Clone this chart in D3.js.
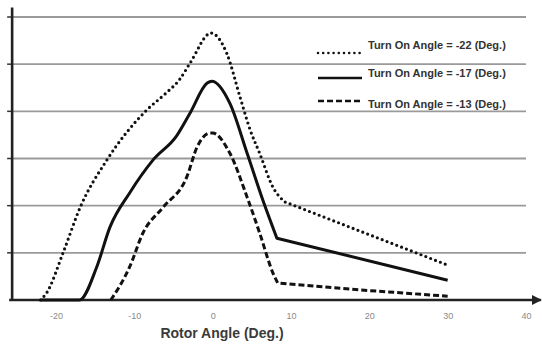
<!DOCTYPE html>
<html lang="en">
<head>
<meta charset="UTF-8">
<title>Turn On Angle vs Rotor Angle</title>
<script src="https://cdn.jsdelivr.net/npm/d3@7"></script>
<style>
  body { margin: 0; background: #fff; }
  svg { display: block; }
  .tick-label { font-family: "Liberation Sans", Arial, sans-serif; font-size: 9px; fill: #8a8a8a; }
  .axis-title { font-family: "Liberation Sans", Arial, sans-serif; font-size: 14px; font-weight: bold; fill: #3a3a3a; }
  .legend-text { font-family: "Liberation Sans", Arial, sans-serif; font-size: 11px; font-weight: bold; fill: #333; }
</style>
</head>
<body>
<svg id="chart" width="542" height="344"></svg>
<script>
// данные
const xTicks = [-20, -10, 0, 10, 20, 30, 40];
const gridValues = [1, 2, 3, 4, 5, 6];

// гладкая часть кривой (до излома) и прямой хвост после излома
const angle22 = [-22, -21.2, -19.1, -16.9, -13.5, -8.4, -6.0, -4.2, -2.9, -0.2, 1.8, 3.5, 4.8, 6.0, 7.7, 9.2];
const value22 = [0, 0.15, 1.0, 1.97, 2.97, 4.03, 4.38, 4.68, 5.02, 5.66, 5.23, 4.30, 3.60, 3.11, 2.39, 2.08];
const tailAngle22 = [30];
const tailValue22 = [0.74];

const angle17 = [-22, -17, -14.8, -13.1, -10.6, -7.6, -4.6, -2.9, -0.7, -0.1, 2.2, 4.4, 6.4, 8.2];
const value17 = [0, 0, 0.70, 1.55, 2.27, 2.97, 3.48, 3.96, 4.60, 4.64, 4.17, 3.11, 2.12, 1.31];
const tailAngle17 = [30];
const tailValue17 = [0.42];

const angle13 = [-13, -10.6, -8.9, -6.3, -3.3, -2.0, -0.3, 0, 2.2, 4.4, 6.0, 7.7, 8.3];
const value13 = [0, 0.70, 1.42, 1.97, 2.61, 3.24, 3.54, 3.54, 3.11, 2.18, 1.42, 0.57, 0.36];
const tailAngle13 = [17.5, 30];
const tailValue13 = [0.23, 0.08];

const seriesNames = ['Turn On Angle = -22 (Deg.)', 'Turn On Angle = -17 (Deg.)', 'Turn On Angle = -13 (Deg.)'];

const series = [
  { name: seriesNames[0], x: angle22, y: value22, tx: tailAngle22, ty: tailValue22, dash: '0 5.2', cap: 'round', width: 3.2 },
  { name: seriesNames[1], x: angle17, y: value17, tx: tailAngle17, ty: tailValue17, dash: null, cap: 'butt', width: 3 },
  { name: seriesNames[2], x: angle13, y: value13, tx: tailAngle13, ty: tailValue13, dash: '6 3', cap: 'butt', width: 3 }
];

const svg = d3.select('#chart');

const xScale = d3.scaleLinear().domain([-20, 40]).range([56, 526]);
const yScale = d3.scaleLinear().domain([0, 6]).range([300, 17]);

const axisLeftX = xScale(-25.6);
const axisRightX = xScale(41.9);
const gridRightX = xScale(40);

// сетка
svg.append('g')
  .selectAll('line')
  .data(gridValues)
  .join('line')
  .attr('x1', axisLeftX)
  .attr('x2', gridRightX)
  .attr('y1', d => yScale(d))
  .attr('y2', d => yScale(d))
  .attr('stroke', '#9a9a9a')
  .attr('stroke-width', 1.8);

// засечки на оси Y
svg.append('g')
  .selectAll('line')
  .data(gridValues)
  .join('line')
  .attr('x1', axisLeftX - 5)
  .attr('x2', axisLeftX)
  .attr('y1', d => yScale(d))
  .attr('y2', d => yScale(d))
  .attr('stroke', '#333')
  .attr('stroke-width', 1.5);

// ось Y
svg.append('line')
  .attr('x1', axisLeftX).attr('x2', axisLeftX)
  .attr('y1', yScale(6.2)).attr('y2', yScale(0) + 1)
  .attr('stroke', '#222').attr('stroke-width', 2.6);

// ось X со стрелкой
svg.append('defs').append('marker')
  .attr('id', 'arrow')
  .attr('viewBox', '0 0 10 10')
  .attr('refX', 9).attr('refY', 5)
  .attr('markerWidth', 4).attr('markerHeight', 4)
  .attr('orient', 'auto')
  .append('path')
  .attr('d', 'M0,0 L10,5 L0,10 Z')
  .attr('fill', '#222');

svg.append('line')
  .attr('x1', axisLeftX - 3).attr('x2', axisRightX)
  .attr('y1', yScale(0)).attr('y2', yScale(0))
  .attr('stroke', '#222').attr('stroke-width', 2.6)
  .attr('marker-end', 'url(#arrow)');

// подписи оси X
const xAxis = d3.axisBottom(xScale).tickValues(xTicks).tickSize(0).tickPadding(0).tickFormat(d3.format('d'));
const gx = svg.append('g')
  .attr('transform', `translate(0,${yScale(0) + 13})`)
  .call(xAxis);
gx.select('.domain').remove();
gx.selectAll('text')
  .attr('class', 'tick-label')
  .attr('fill', null)
  .attr('font-family', null)
  .attr('font-size', null)
  .text(d => d < 0 ? '-' + Math.abs(d) : d);

svg.append('text')
  .attr('class', 'axis-title')
  .attr('x', 222)
  .attr('y', 338)
  .attr('text-anchor', 'middle')
  .text('Rotor Angle (Deg.)');

// кривые: сглаженный подъём/пик + прямой хвост одним путём
const smooth = d3.line()
  .x(d => xScale(d[0]))
  .y(d => yScale(d[1]))
  .curve(d3.curveMonotoneX);

series.forEach(s => {
  const pts = s.x.map((v, i) => [v, s.y[i]]);
  const tail = s.tx.map((v, i) => `L${xScale(v)},${yScale(s.ty[i])}`).join('');
  svg.append('path')
    .attr('d', smooth(pts) + tail)
    .attr('fill', 'none')
    .attr('stroke', '#111')
    .attr('stroke-width', s.width)
    .attr('stroke-linecap', s.cap)
    .attr('stroke-linejoin', 'round')
    .attr('stroke-dasharray', s.dash);
});

// легенда
const legendRows = [53, 78, 101];
const legendText = [49, 77, 108];
series.forEach((s, i) => {
  svg.append('line')
    .attr('x1', 318).attr('x2', 362)
    .attr('y1', legendRows[i]).attr('y2', legendRows[i])
    .attr('stroke', '#111')
    .attr('stroke-width', s.width - 0.6)
    .attr('stroke-linecap', s.cap)
    .attr('stroke-dasharray', s.dash);
  svg.append('text')
    .attr('class', 'legend-text')
    .attr('x', 368)
    .attr('y', legendText[i])
    .text(s.name);
});
</script>
</body>
</html>
